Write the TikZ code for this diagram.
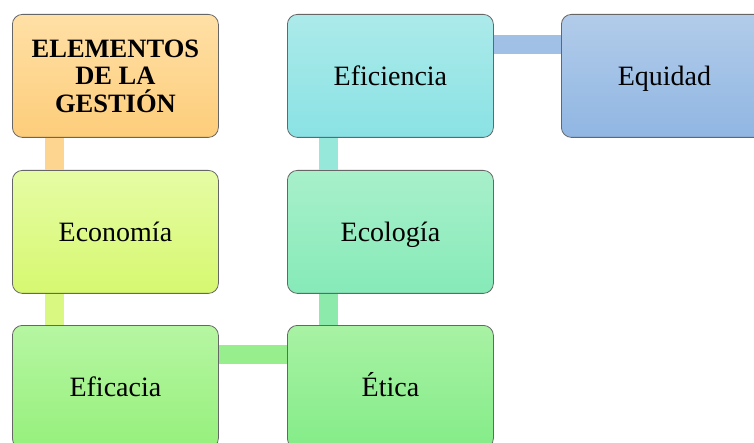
\documentclass[tikz,border=0pt]{standalone}
\usepackage{fontspec}
\setmainfont{Liberation Serif}
\usetikzlibrary{calc}
\tikzset{
  card/.style={rectangle, rounded corners=10pt, draw=black!60, line width=0.8pt,
    minimum width=206pt, minimum height=123pt, inner sep=0pt, anchor=north west,
    font=\fontsize{28}{32}\selectfont, align=center, text height=18.5pt, text depth=0pt},
  bar/.style={line width=19pt, line cap=butt}
}
\begin{document}
\begin{tikzpicture}[x=1pt,y=1pt]
\useasboundingbox (0,0) rectangle (754,-443);
\clip (0,0) rectangle (754,-443);
% nodes
\node[card, top color={rgb,255:red,255;green,224;blue,166}, bottom color={rgb,255:red,253;green,205;blue,122},
  font=\fontsize{26.5}{27.5}\selectfont\bfseries, text height=, text depth=] (b1) at (12,-14) {ELEMENTOS\\DE LA\\GESTIÓN};
\node[card, top color={rgb,255:red,230;green,252;blue,164}, bottom color={rgb,255:red,214;green,248;blue,112}] (eco) at (12,-170) {Economía};
\node[card, top color={rgb,255:red,182;green,246;blue,162}, bottom color={rgb,255:red,150;green,240;blue,124}] (efa) at (12,-325) {Eficacia};
\node[card, top color={rgb,255:red,168;green,242;blue,164}, bottom color={rgb,255:red,132;green,236;blue,136}] (eti) at (287,-325) {Ética};
\node[card, top color={rgb,255:red,168;green,240;blue,202}, bottom color={rgb,255:red,134;green,234;blue,184}] (ecl) at (287,-170) {Ecología};
\node[card, top color={rgb,255:red,172;green,234;blue,234}, bottom color={rgb,255:red,138;green,226;blue,228}] (efi) at (287,-14) {Eficiencia};
\node[card, top color={rgb,255:red,178;green,204;blue,234}, bottom color={rgb,255:red,144;green,182;blue,226}] (equ) at (561,-14) {Equidad};
% connectors
\draw[bar, draw={rgb,255:red,253;green,212;blue,144}] ($(b1.south west)+(42,0)$) -- ($(eco.north west)+(42,0)$);
\draw[bar, draw={rgb,255:red,216;green,248;blue,130}] ($(eco.south west)+(42,0)$) -- ($(efa.north west)+(42,0)$);
\draw[bar, draw={rgb,255:red,150;green,238;blue,140}] ($(efa.north east)+(0,-29.5)$) -- ($(eti.north west)+(0,-29.5)$);
\draw[bar, draw={rgb,255:red,140;green,234;blue,170}] ($(eti.north west)+(41.5,0)$) -- ($(ecl.south west)+(41.5,0)$);
\draw[bar, draw={rgb,255:red,150;green,232;blue,218}] ($(ecl.north west)+(41.5,0)$) -- ($(efi.south west)+(41.5,0)$);
\draw[bar, draw={rgb,255:red,160;green,192;blue,230}] ($(efi.north east)+(0,-31)$) -- ($(equ.north west)+(0,-31)$);
\end{tikzpicture}
\end{document}
